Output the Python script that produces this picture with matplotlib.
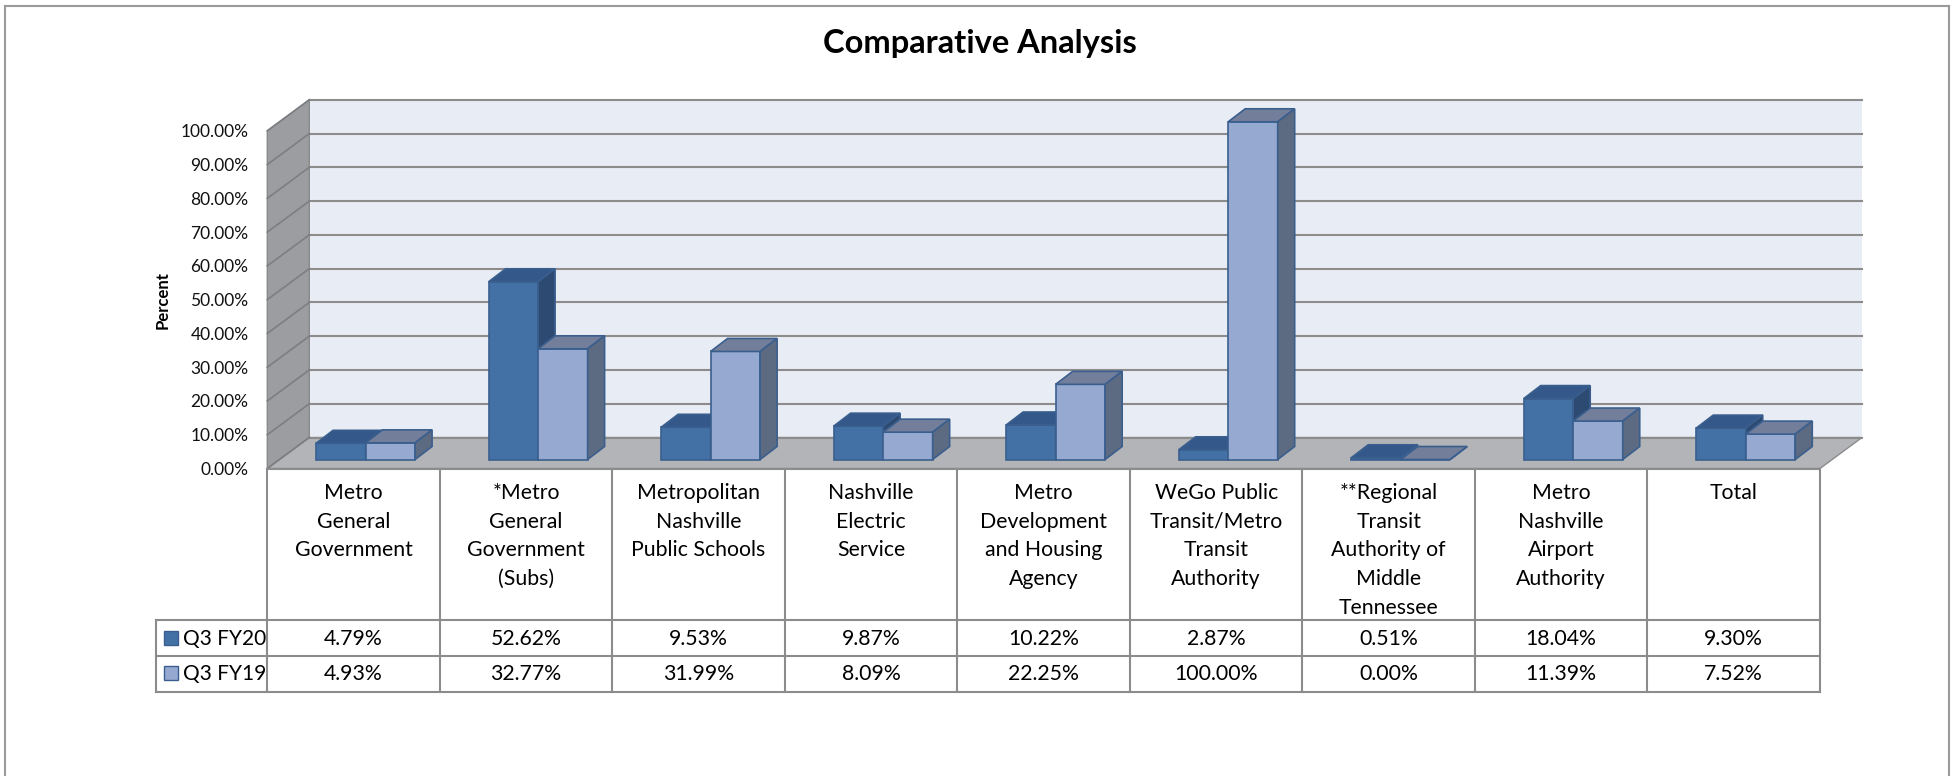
import numpy as np
import matplotlib
matplotlib.use("Agg")
import matplotlib.pyplot as plt
from matplotlib.patches import Polygon
from matplotlib.lines import Line2D
from matplotlib.transforms import Affine2D, IdentityTransform

plt.rcParams["font.family"] = ["Lato", "DejaVu Sans"]

# ---- data ----
categories = [
    "Metro\nGeneral\nGovernment",
    "*Metro\nGeneral\nGovernment\n(Subs)",
    "Metropolitan\nNashville\nPublic Schools",
    "Nashville\nElectric\nService",
    "Metro\nDevelopment\nand Housing\nAgency",
    "WeGo Public\nTransit/Metro\nTransit\nAuthority",
    "**Regional\nTransit\nAuthority of\nMiddle\nTennessee",
    "Metro\nNashville\nAirport\nAuthority",
    "Total",
]
series_names = ["Q3 FY20", "Q3 FY19"]
q3_fy20 = [4.79, 52.62, 9.53, 9.87, 10.22, 2.87, 0.51, 18.04, 9.30]
q3_fy19 = [4.93, 32.77, 31.99, 8.09, 22.25, 100.00, 0.00, 11.39, 7.52]
y_ticks = [0, 10, 20, 30, 40, 50, 60, 70, 80, 90, 100]

# ---- layout (image pixels, y from top) ----
W, H = 1952, 776
PX0, PX1 = 267.3, 1820.0     # front plane left / right
PY0, PY1 = 468.5, 130.8      # front plane 0% / 100%
DEPTH = (42, 31)             # floor depth offset
BAR_IN = (12, 9)             # where the bar fronts sit on the floor
BAR_D = (17, 13)             # bar depth
BAR_W = 0.287                # in category units
LEG_X = 156
ROWS = [PY0, 620, 656, 691.5]

front_cols = ["#4371a6", "#95a9d1"]
top_cols = ["#34588a", "#727e9a"]
side_cols = ["#2d4a72", "#5c6a82"]
edge_col = "#3a5f8e"
grid_col = "#8c8c8c"


def fx(px):
    return px / W


def fy(py):
    return 1 - py / H


fig = plt.figure(figsize=(W / 100, H / 100), dpi=100)
ax = fig.add_axes([fx(PX0), fy(PY0), (PX1 - PX0) / W, (PY0 - PY1) / H])
n = len(categories)
ymax = y_ticks[-1]
ax.set_xlim(0, n)
ax.set_ylim(0, ymax)
ax.set_autoscale_on(False)
ax.patch.set_visible(False)
for s in ax.spines.values():
    s.set_visible(False)
ax.set_xticks([])
ax.set_yticks(y_ticks, [f"{t:.2f}%" for t in y_ticks])
ax.tick_params(axis="y", length=0, pad=13.5, labelsize=12.5, labelcolor="#111111")


def to_px(x, y, off=(0, 0)):
    d = ax.transData.transform((x, y))
    return (d[0] + off[0], d[1] + off[1])


def face(pts, fc, ec="none", lw=0.0, z=1.0):
    ax.add_patch(Polygon(pts, closed=True, transform=IdentityTransform(),
                         facecolor=fc, edgecolor=ec, linewidth=lw,
                         zorder=z, clip_on=False))


def seg(p0, p1, color=grid_col, lw=1.5, z=1.0):
    ax.add_line(Line2D([p0[0], p1[0]], [p0[1], p1[1]], transform=IdentityTransform(),
                       color=color, linewidth=lw, zorder=z, clip_on=False))


# walls and floor
face([to_px(0, 0, DEPTH), to_px(n, 0, DEPTH), to_px(n, ymax, DEPTH), to_px(0, ymax, DEPTH)],
     "#e8ecf5", z=0.5)
face([to_px(0, 0), to_px(0, 0, DEPTH), to_px(0, ymax, DEPTH), to_px(0, ymax)],
     "#9c9da1", ec="#8a8a8a", lw=1.0, z=0.6)
face([to_px(0, 0), to_px(n, 0), to_px(n, 0, DEPTH), to_px(0, 0, DEPTH)],
     "#b2b4b7", ec="#8c8c8c", lw=1.0, z=0.6)

for t in y_ticks:
    seg(to_px(0, t, DEPTH), to_px(n, t, DEPTH), z=0.7)
    seg(to_px(0, t), to_px(0, t, DEPTH), color="#7d7e82", lw=1.2, z=0.7)

# bars
back_off = (BAR_IN[0] + BAR_D[0], BAR_IN[1] + BAR_D[1])
for s, vals in enumerate([q3_fy20, q3_fy19]):
    xs = np.arange(n) + 0.5 - BAR_W + s * BAR_W
    z = 3 + s
    ax.bar(xs, vals, width=BAR_W, align="edge", color=front_cols[s], edgecolor=edge_col,
           linewidth=1.2, zorder=z, clip_on=False,
           transform=ax.transData + Affine2D().translate(*BAR_IN))
    for x, h in zip(xs, vals):
        face([to_px(x, h, BAR_IN), to_px(x + BAR_W, h, BAR_IN),
              to_px(x + BAR_W, h, back_off), to_px(x, h, back_off)],
             top_cols[s], ec=edge_col, lw=1.2, z=z)
        face([to_px(x + BAR_W, 0, BAR_IN), to_px(x + BAR_W, h, BAR_IN),
              to_px(x + BAR_W, h, back_off), to_px(x + BAR_W, 0, back_off)],
             side_cols[s], ec=edge_col, lw=1.2, z=z)

# data table
leg_x = -(PX0 - LEG_X) / (PX1 - PX0) * n
tab = fig.add_axes([fx(LEG_X), fy(ROWS[-1]), (PX1 - LEG_X) / W, (ROWS[-1] - PY0) / H])
tab.set_xlim(leg_x, n)
tab.set_ylim(ROWS[-1], PY0)
tab.axis("off")

tab.plot([0, n], [ROWS[0], ROWS[0]], color=grid_col, lw=1.5, clip_on=False)
for r in ROWS[1:]:
    tab.plot([leg_x, n], [r, r], color=grid_col, lw=1.5, clip_on=False)
for i in range(n + 1):
    tab.plot([i, i], [ROWS[0], ROWS[-1]], color=grid_col, lw=1.5, clip_on=False)
tab.plot([leg_x, leg_x], [ROWS[1], ROWS[-1]], color=grid_col, lw=1.5, clip_on=False)

for i, lab in enumerate(categories):
    for k, line in enumerate(lab.split("\n")):
        tab.text(i + 0.5, 499 + k * 28.7, line, ha="center", va="baseline", fontsize=15.3)

for s, vals in enumerate([q3_fy20, q3_fy19]):
    base = [645, 680][s]
    for i, v in enumerate(vals):
        tab.text(i + 0.5, base, f"{v:.2f}%", ha="center", va="baseline", fontsize=15.3)
    key_x = (170.7 - PX0) / (PX1 - PX0) * n
    tab.plot([key_x], [base - 7.5], marker="s", ms=10, mfc=front_cols[s], mec=edge_col,
             mew=1, clip_on=False)
    tab.text((183 - PX0) / (PX1 - PX0) * n, base, series_names[s], ha="left",
             va="baseline", fontsize=15)

# title, axis label, chart border
fig.text(fx(980), fy(43), "Comparative Analysis", ha="center", va="center",
         fontsize=23.5, fontweight="bold")
fig.text(fx(163), fy(300), "Percent", ha="center", va="center", rotation=90,
         fontsize=12, fontweight="bold")
for xs_, ys_ in [([5, 5], [6, 800]), ([5, 1949], [6, 6]), ([1949, 1949], [6, 800])]:
    fig.add_artist(Line2D([fx(v) for v in xs_], [fy(v) for v in ys_],
                          transform=fig.transFigure, color="#9a9a9a", lw=1.5))

fig.savefig("out.png", dpi=100)
